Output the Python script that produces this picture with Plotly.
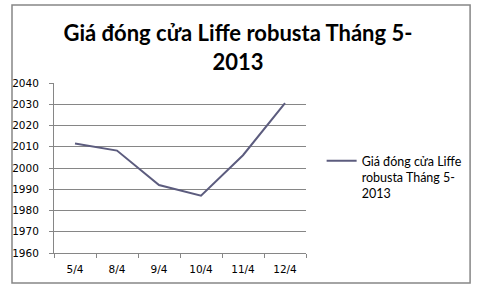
import plotly.graph_objects as go

categories = ["5/4", "8/4", "9/4", "10/4", "11/4", "12/4"]
prices = [2011.5, 2008.2, 1992.0, 1987.0, 2006.0, 2030.5]
series_name = "Giá đóng cửa Liffe<br>robusta Tháng 5-<br>2013"
title_text = "Giá đóng cửa Liffe robusta Tháng 5-<br>2013"
y_ticks = [1960, 1970, 1980, 1990, 2000, 2010, 2020, 2030, 2040]

W, H = 482, 290
L, R, T, B = 48, 176, 83, 37
pw, ph = W - L - R, H - T - B

def px_x(x):
    return (x - L) / pw

def px_y(y):
    return (H - B - y) / ph

fig = go.Figure()
fig.add_trace(go.Scatter(
    x=categories, y=prices, mode="lines", name=series_name,
    line=dict(color="#5c5c7e", width=2),
))

fig.update_layout(
    width=W, height=H,
    margin=dict(l=L, r=R, t=T, b=B),
    paper_bgcolor="white", plot_bgcolor="white",
    title=dict(text=title_text, x=238 / W, xanchor="center", xref="container",
               y=1 - 41 / H, yanchor="top", yref="container",
               font=dict(family="Lato", size=22, color="black", weight="bold")),
    showlegend=True,
    legend=dict(x=px_x(322), xanchor="left", y=px_y(146), yanchor="top",
                font=dict(family="Lato", size=12.5, color="black"),
                valign="top", bgcolor="rgba(0,0,0,0)", tracegroupgap=0,
                itemwidth=30),
    xaxis=dict(type="category", showgrid=False, showline=True, linecolor="#868686",
               linewidth=1, ticks="outside", tickson="boundaries", ticklen=4,
               tickcolor="#868686", tickfont=dict(family="DejaVu Sans", size=10.5, color="black"),
               ticklabelstandoff=6,
               range=[-0.5, 5.5], fixedrange=True, zeroline=False),
    yaxis=dict(range=[1960, 2040], tickvals=y_ticks, showgrid=True, gridcolor="#868686",
               gridwidth=1, showline=True, linecolor="#868686", linewidth=1,
               ticks="outside", ticklen=4, tickcolor="#868686",
               tickfont=dict(family="DejaVu Sans", size=10.5, color="black"),
               ticklabelstandoff=8,
               zeroline=False, fixedrange=True),
    shapes=[dict(type="rect", xref="paper", yref="paper",
                 x0=px_x(5), x1=px_x(474), y0=px_y(283), y1=px_y(5),
                 line=dict(color="#868686", width=1.5), layer="below")],
)

fig.write_html("out.html")
